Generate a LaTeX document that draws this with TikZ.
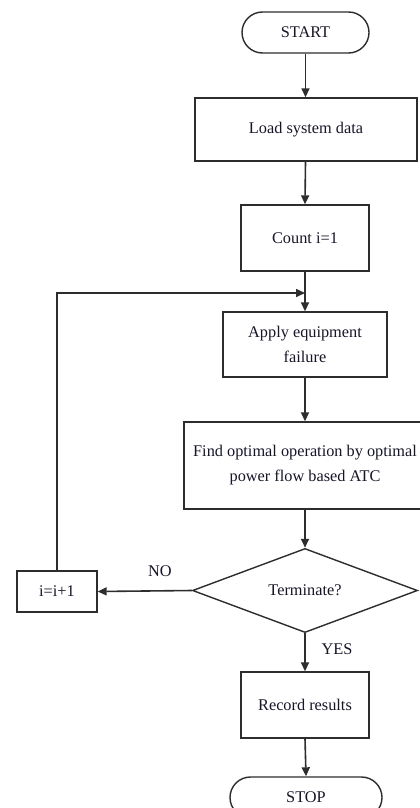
\documentclass[tikz,border=0pt]{standalone}
\usepackage{fontspec}
\setmainfont{Liberation Serif}
\usetikzlibrary{arrows.meta,shapes.geometric,shapes.misc}
\definecolor{ink}{RGB}{22,22,40}
\definecolor{edge}{RGB}{45,45,45}
\begin{document}
\begin{tikzpicture}[x=1pt,y=-1pt,
  txt/.style={text=ink, font=\fontsize{16.3}{25}\selectfont},
  box/.style={txt, draw=edge, line width=1.4pt, rectangle, align=center, inner sep=0pt},
  term/.style={txt, draw=edge, line width=1.4pt, rounded rectangle, inner sep=0pt},
  dec/.style={txt, draw=edge, line width=1.4pt, diamond, inner sep=0pt},
  arr/.style={draw=edge, line width=1.6pt, -{Triangle[length=9pt,width=8pt]}},
  lbl/.style={txt}]
\useasboundingbox (0,0) rectangle (420,808);
\fill[white] (0,0) rectangle (420,808);
\clip (0,0) rectangle (420,808);

\node[term, minimum width=127pt, minimum height=41pt] (start) at (305.5,32.5) {START};
\node[box, minimum width=222pt, minimum height=63pt] (load) at (306,129.5) {Load system data};
\node[box, minimum width=128pt, minimum height=66pt] (count) at (305,238) {Count i=1};
\node[box, minimum width=164pt, minimum height=65pt] (apply) at (305,344.5) {Apply equipment\\failure};
\node[box, minimum width=242pt, minimum height=87pt] (find) at (305,465.5) {Find optimal operation by optimal\\power flow based ATC};
\node[dec, minimum width=225pt, minimum height=77pt] (termq) at (305,590.5) {Terminate?};
\node[box, minimum width=80pt, minimum height=41pt] (inc) at (57,591.5) {i=i+1};
\node[box, minimum width=128pt, minimum height=66pt] (record) at (305,705) {Record results};
\node[term, minimum width=152pt, minimum height=41pt] (stop) at (306,797.5) {STOP};

\coordinate (join) at (305,293);

\draw[arr] (start.south) -- (start.south |- load.north);
\draw[arr] (load.south -| start.south) -- (count.north);
\draw[arr] (count.south) -- (apply.north);
\draw[arr] (inc.north) |- (join);
\draw[arr] (apply.south) -- (find.north);
\draw[arr] (find.south) -- (termq.north);
\draw[arr] (termq.west) -- (inc.east);
\draw[arr] (termq.south) -- (record.north);
\draw[arr] (record.south) -- (stop.north);

\node[lbl] (no) at (160,571) {NO};
\node[lbl] (yes) at (337,649) {YES};
\end{tikzpicture}
\end{document}
